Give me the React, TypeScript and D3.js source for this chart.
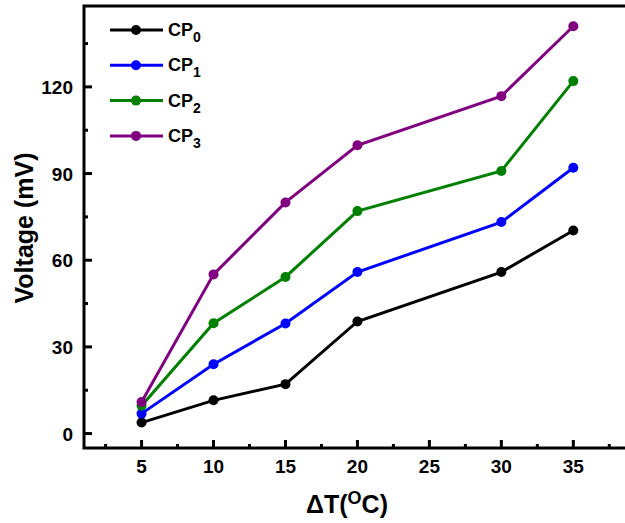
import React, { useEffect, useRef } from 'react';
import * as d3 from 'd3';

const deltaT = [5, 10, 15, 20, 30, 35];
const cp0 = [3.8, 11.5, 17.1, 38.8, 55.9, 70.3];
const cp1 = [6.9, 24, 38.1, 55.9, 73.2, 92];
const cp2 = [9.6, 38.2, 54.2, 77, 90.9, 122];
const cp3 = [10.9, 55.1, 80, 99.8, 116.8, 141];
const seriesNames = ['0', '1', '2', '3'];
const seriesColors = ['#000000', '#0000ff', '#008000', '#800080'];
const xTicks = [5, 10, 15, 20, 25, 30, 35];
const xMinorTicks = [2.5, 7.5, 12.5, 17.5, 22.5, 27.5, 32.5, 37.5];
const yTicks = [0, 30, 60, 90, 120];
const yMinorTicks = [15, 45, 75, 105, 135];

const App = () => {
  const ref = useRef<SVGSVGElement>(null);

  useEffect(() => {
    if (!ref.current) return;
    const svg = d3.select(ref.current);
    svg.selectAll('*').remove();

    const left = 84, top = 6, right = 628, bottom = 448;
    const x = d3.scaleLinear().domain([1, 38.8]).range([left, right]);
    const y = d3.scaleLinear().domain([-5, 148]).range([bottom, top]);
    const font = 'Arial, "Liberation Sans", sans-serif';

    svg.append('rect').attr('width', 625).attr('height', 523).attr('fill', '#fff');

    // frame
    svg.append('rect')
      .attr('x', left).attr('y', top)
      .attr('width', right - left).attr('height', bottom - top)
      .attr('fill', 'none').attr('stroke', '#000').attr('stroke-width', 3);

    // ticks, pointing inward
    const g = svg.append('g').attr('stroke', '#000').attr('stroke-width', 3);
    xTicks.forEach(t => g.append('line').attr('x1', x(t)).attr('x2', x(t)).attr('y1', bottom).attr('y2', bottom - 8));
    xMinorTicks.forEach(t => g.append('line').attr('x1', x(t)).attr('x2', x(t)).attr('y1', bottom).attr('y2', bottom - 4));
    yTicks.forEach(t => g.append('line').attr('x1', left).attr('x2', left + 8).attr('y1', y(t)).attr('y2', y(t)));
    yMinorTicks.forEach(t => g.append('line').attr('x1', left).attr('x2', left + 4).attr('y1', y(t)).attr('y2', y(t)));

    svg.append('g').selectAll('text').data(xTicks).enter().append('text')
      .attr('x', d => x(d)).attr('y', 473)
      .attr('text-anchor', 'middle')
      .style('font', `bold 19px ${font}`)
      .text(d => d);

    svg.append('g').selectAll('text').data(yTicks).enter().append('text')
      .attr('x', 73).attr('y', d => y(d) + 7)
      .attr('text-anchor', 'end')
      .style('font', `bold 19px ${font}`)
      .text(d => d);

    // axis titles
    svg.append('text')
      .attr('transform', 'translate(33,228) rotate(-90)')
      .attr('text-anchor', 'middle')
      .style('font', `bold 25px ${font}`)
      .text('Voltage (mV)');

    const xt = svg.append('text')
      .attr('x', 347).attr('y', 513)
      .attr('text-anchor', 'middle')
      .style('font', `bold 25px ${font}`);
    xt.append('tspan').text('ΔT(');
    xt.append('tspan').attr('dy', -9).style('font-size', '18px').text('O');
    xt.append('tspan').attr('dy', 9).text('C)');

    // series
    const allSeries = [cp0, cp1, cp2, cp3];
    const line = d3.line<number>().x((d, i) => x(deltaT[i])).y(d => y(d));
    allSeries.forEach((vals, s) => {
      svg.append('path')
        .datum(vals)
        .attr('d', line)
        .attr('fill', 'none')
        .attr('stroke', seriesColors[s])
        .attr('stroke-width', 3);
      svg.append('g').selectAll('circle').data(vals).enter().append('circle')
        .attr('cx', (d, i) => x(deltaT[i]))
        .attr('cy', d => y(d))
        .attr('r', 5)
        .attr('fill', seriesColors[s]);
    });

    // legend
    seriesNames.forEach((n, i) => {
      const ly = 30 + i * 35.3;
      svg.append('line')
        .attr('x1', 110).attr('x2', 163).attr('y1', ly).attr('y2', ly)
        .attr('stroke', seriesColors[i]).attr('stroke-width', 3);
      svg.append('circle').attr('cx', 136).attr('cy', ly).attr('r', 5).attr('fill', seriesColors[i]);
      const t = svg.append('text')
        .attr('x', 168).attr('y', ly + 6)
        .style('font', `bold 18px ${font}`);
      t.append('tspan').text('CP');
      t.append('tspan').attr('dy', 6).style('font-size', '14px').text(n);
    });
  }, []);

  return (
    <svg
      ref={ref}
      width={625}
      height={523}
      style={{ position: 'absolute', left: 0, top: 0, display: 'block' }}
    />
  );
};

export default App;
